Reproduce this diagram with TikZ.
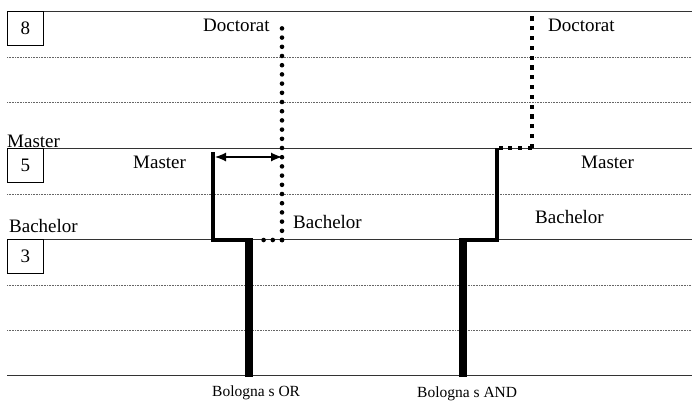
\documentclass[tikz,border=0pt]{standalone}
\usepackage{fontspec}
\setmainfont{Liberation Serif}
\usetikzlibrary{arrows.meta,calc}
\begin{document}
\begin{tikzpicture}[x=1pt,y=-1pt,
  solidrule/.style={draw=black!80,line width=0.9pt},
  finerule/.style={draw=black!60,line width=0.6pt,dash pattern=on 0.8pt off 0.8pt},
  levelbox/.style={draw=black,line width=0.8pt,minimum width=36pt,minimum height=34pt,inner sep=0pt,anchor=north west,font=\fontsize{19}{19}\selectfont},
  lbl/.style={anchor=base west,inner sep=0pt,font=\fontsize{19}{19}\selectfont},
  small/.style={anchor=base west,inner sep=0pt,font=\fontsize{15.5}{15.5}\selectfont},
  thickpath/.style={line width=4pt,miter limit=10},
  heavybar/.style={line width=8.5pt},
  rounddots/.style={line width=4.6pt,line cap=round,dash pattern=on 0pt off 9.2pt},
  squaredots/.style={line width=4.2pt,dash pattern=on 4.2pt off 5.6pt}
]
\useasboundingbox (0,0) rectangle (692,400);
\fill[white] (0,0) rectangle (692,400);
% rules
\foreach \yy in {11,148,239,375} \draw[solidrule] (7,\yy) -- (692,\yy);
\foreach \yy in {57,102,194,285,330} \draw[finerule] (7,\yy) -- (692,\yy);
% level boxes
\node[levelbox,fill=white] (b8) at (7,11) {8};
\node[levelbox,fill=white] (b5) at (7,148) {5};
\node[levelbox,fill=white] (b3) at (7,239) {3};
% left labels
\node[lbl] (lmaster) at (7,147) {Master};
\node[lbl] (lbachelor) at (9,232) {Bachelor};
% OR path
\coordinate (o1) at (213,152);
\coordinate (o2) at (213,240);
\coordinate (o3) at (249,240);
\coordinate (o4) at (249,377);
\coordinate (od1) at (256,240);
\coordinate (od2) at (282,240);
\coordinate (od3) at (282,20);
\draw[thickpath] (o1) -- (o2) -- (o3);
\draw[heavybar] ($(o3)+(0,-2)$) -- (o4);
\draw[rounddots] (od2) -- (od3);
\draw[rounddots] (od2) -- (od1);
\coordinate (a1) at (215,157);
\coordinate (a2) at (282,157);
\draw[line width=1.2pt,{Latex[length=11pt,width=9pt]}-{Latex[length=11pt,width=9pt]}] (a1) -- (a2);
\node[lbl] (ldoc) at (203,31) {Doctorat};
\node[lbl] (lmas) at (133,168) {Master};
\node[lbl] (lbac) at (293,228) {Bachelor};
\node[small] (bor) at (212,396) {Bologna s OR};
% AND path
\coordinate (n1) at (463,377);
\coordinate (n2) at (463,240);
\coordinate (n3) at (497,240);
\coordinate (n4) at (497,148);
\coordinate (nd1) at (499,148);
\coordinate (nd2) at (532,148);
\coordinate (nd3) at (532,15);
\draw[heavybar] (n1) -- ($(n2)+(0,-2)$);
\draw[thickpath] (n2) -- (n3) -- (n4);
\draw[squaredots] (nd2) -- (nd3);
\draw[squaredots] (nd2) -- (nd1);
\node[lbl] (rdoc) at (548,31) {Doctorat};
\node[lbl] (rmas) at (581,168) {Master};
\node[lbl] (rbac) at (535,223) {Bachelor};
\node[small] (band) at (417,397) {Bologna s AND};
\end{tikzpicture}
\end{document}
